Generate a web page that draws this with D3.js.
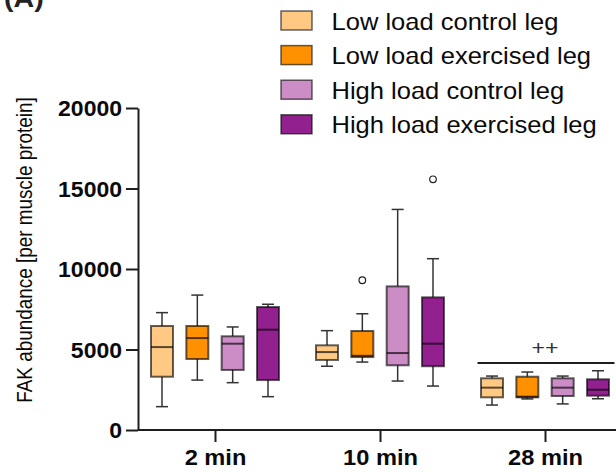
<!DOCTYPE html>
<html><head><meta charset="utf-8">
<script src="https://cdn.jsdelivr.net/npm/d3@7"></script>
<style>body{margin:0;background:#fff}svg{display:block}text{font-family:"Liberation Sans",Arial,Helvetica,sans-serif}</style>
</head><body>
<svg id="c" width="616" height="472"></svg>
<script>
const groups = ["2 min", "10 min", "28 min"];
const seriesNames = ["Low load control leg", "Low load exercised leg", "High load control leg", "High load exercised leg"];
const seriesColors = ["#FFC984", "#FF9100", "#CC8DC6", "#92208E"];
// five-number summaries per group: [whiskerLow, q1, median, q3, whiskerHigh]
const lowControl   = [[1450, 3310, 5150, 6460, 7290], [3960, 4350, 4840, 5260, 6170], [1550, 2030, 2630, 3210, 3350]];
const lowExercised = [[3100, 4410, 5710, 6460, 8380], [4220, 4530, 4610, 6150, 7220], [1930, 2030, 2070, 3310, 3600]];
const highControl  = [[2940, 3730, 5360, 5820, 6400], [3040, 4020, 4780, 8920, 13700], [1620, 2110, 2630, 3210, 3350]];
const highExercised= [[2070, 3100, 6230, 7640, 7810], [2730, 3960, 5360, 8240, 10640], [1940, 2130, 2500, 3150, 3680]];
const outliers = [
  {series: 1, group: 1, value: 9300},
  {series: 3, group: 1, value: 15570}
];
const yTicks = [0, 5000, 10000, 15000, 20000];
const yTitle = "FAK abundance [per muscle protein]";
const panelLabel = "(A)";
const sigLabel = "++";
const sigGroup = 2;

const allSeries = [lowControl, lowExercised, highControl, highExercised];
const svg = d3.select("#c");
const y = d3.scaleLinear().domain([0, 20000]).range([430, 108]);
const x = d3.scalePoint().domain(groups).range([215, 545]);
const xs = d3.scalePoint().domain(seriesNames).range([-53, 53]);
const boxW = 22, capW = 12;
const dark = "#1e1e1e";

// y axis
const gy = svg.append("g").attr("transform", "translate(138,0)")
  .call(d3.axisLeft(y).tickValues(yTicks).tickSize(12).tickSizeOuter(0).tickFormat(d3.format("d")));
gy.select(".domain").attr("stroke", dark).attr("stroke-width", 2);
gy.selectAll(".tick line").attr("stroke", dark).attr("stroke-width", 2);
gy.selectAll(".tick text").attr("x", 0).attr("dy", "0.36em")
  .attr("transform", `translate(-16,0) scale(1.07,1)`)
  .attr("font-size", 21.5).attr("font-weight", "bold").attr("fill", "#0a0a0a")
  .attr("font-family", '"Liberation Sans",Arial,sans-serif');

// x axis
const gx = svg.append("g").attr("transform", "translate(0,430)")
  .call(d3.axisBottom(x).tickSize(12).tickSizeOuter(0));
gx.select(".domain").attr("d", "M138,0H616").attr("stroke", dark).attr("stroke-width", 2);
gx.selectAll(".tick line").attr("stroke", dark).attr("stroke-width", 2);
gx.selectAll(".tick text").attr("y", 0).attr("dy", 0)
  .attr("transform", `translate(0,35) scale(1.1,1)`)
  .attr("font-size", 21.5).attr("font-weight", "bold").attr("fill", "#0a0a0a")
  .attr("font-family", '"Liberation Sans",Arial,sans-serif');

// y title
svg.append("text")
  .attr("transform", `translate(31.5,250) scale(1.2,1) rotate(-90)`)
  .attr("text-anchor", "middle").attr("font-size", 18.9).attr("fill", "#0a0a0a")
  .text(yTitle);

// panel label
svg.append("text").attr("transform", `translate(4,7) scale(1.1,1)`)
  .attr("font-size", 26).attr("font-weight", "bold").attr("fill", "#222").text(panelLabel);

// boxes
allSeries.forEach((ser, si) => {
  const g = svg.append("g");
  ser.forEach((s, gi) => {
    const cx = x(groups[gi]) + xs(seriesNames[si]);
    const [lo, q1, med, q3, hi] = s;
    g.append("line").attr("x1", cx).attr("x2", cx).attr("y1", y(q3)).attr("y2", y(hi))
      .attr("stroke", "#333").attr("stroke-width", 1.5);
    g.append("line").attr("x1", cx).attr("x2", cx).attr("y1", y(q1)).attr("y2", y(lo))
      .attr("stroke", "#333").attr("stroke-width", 1.5);
    [lo, hi].forEach(v => g.append("line").attr("x1", cx - capW / 2).attr("x2", cx + capW / 2)
      .attr("y1", y(v)).attr("y2", y(v)).attr("stroke", "#333").attr("stroke-width", 1.5));
    g.append("rect").attr("x", cx - boxW / 2).attr("width", boxW)
      .attr("y", y(q3)).attr("height", y(q1) - y(q3))
      .attr("fill", seriesColors[si]).attr("stroke", "rgba(0,0,0,0.62)").attr("stroke-width", 2);
    g.append("line").attr("x1", cx - boxW / 2).attr("x2", cx + boxW / 2)
      .attr("y1", y(med)).attr("y2", y(med)).attr("stroke", "rgba(0,0,0,0.65)").attr("stroke-width", 2);
  });
});

// outliers
outliers.forEach(o => {
  svg.append("circle").attr("cx", x(groups[o.group]) + xs(seriesNames[o.series])).attr("cy", y(o.value))
    .attr("r", 3.3).attr("fill", "none").attr("stroke", "#222").attr("stroke-width", 1.2);
});

// significance bar
const sc = x(groups[sigGroup]);
svg.append("line").attr("x1", sc - 67.5).attr("x2", sc + 69.5).attr("y1", 363).attr("y2", 363)
  .attr("stroke", dark).attr("stroke-width", 2);
svg.append("text").attr("transform", `translate(${sc},355) scale(1.1,1)`)
  .attr("text-anchor", "middle").attr("font-size", 21).attr("fill", "#333").text(sigLabel);

// legend
const leg = svg.append("g");
seriesNames.forEach((n, i) => {
  const ty = 11 + i * 34.6;
  leg.append("rect").attr("x", 281).attr("y", ty).attr("width", 31).attr("height", 19)
    .attr("fill", seriesColors[i]).attr("stroke", "rgba(0,0,0,0.6)").attr("stroke-width", 1.5);
  leg.append("text").attr("transform", `translate(331.5,${ty + 18.5}) scale(1.11,1)`)
    .attr("font-size", 23).attr("fill", "#0a0a0a").text(n);
});
</script>
</body></html>
